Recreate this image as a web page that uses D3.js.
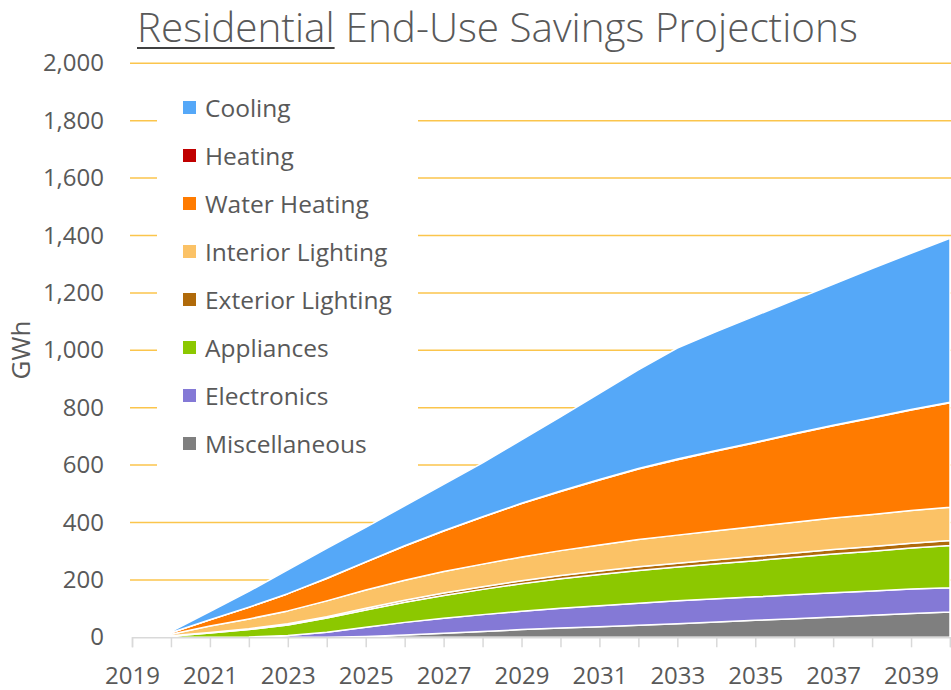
<!DOCTYPE html>
<html>
<head>
<meta charset="utf-8">
<script src="https://cdn.jsdelivr.net/npm/d3@7"></script>
<style>
  html, body { margin: 0; padding: 0; background: #fff; }
  svg { display: block; font-family: "Open Sans", "DejaVu Sans", sans-serif; }
</style>
</head>
<body>
<svg id="chart" width="951" height="690"></svg>
<script>
// ---- data ----
const years = d3.range(2019, 2041);               // category axis 2019..2040
const dataYears = d3.range(2020, 2041);           // series start in 2020
const seriesNames = ["Miscellaneous", "Electronics", "Appliances", "Exterior Lighting",
                     "Interior Lighting", "Water Heating", "Heating", "Cooling"];
const legendOrder = ["Cooling", "Heating", "Water Heating", "Interior Lighting",
                     "Exterior Lighting", "Appliances", "Electronics", "Miscellaneous"];
const misc        = [0, 0, 0, 0, 0, 3, 8, 14, 20, 27, 32, 37, 42, 47, 53, 59, 65, 71, 77, 83, 88];
const electronics = [0, 0, 1, 6, 18, 32, 44, 52, 59, 64, 69, 73, 77, 80, 81, 82, 83, 84, 84, 85, 85];
const appliances  = [4, 15, 26, 37, 49, 60, 70, 80, 88, 96, 103, 109, 114, 118, 122, 126, 131, 135, 139, 143, 147];
const extLighting = [1, 2, 3, 4, 5, 6, 7, 8, 9, 10, 11, 12, 13, 13, 14, 15, 15, 16, 16, 17, 17];
const intLighting = [6, 22, 34, 45, 55, 64, 70, 75, 79, 83, 87, 91, 95, 98, 101, 104, 107, 110, 112, 114, 116];
const waterHeat   = [5, 22, 41, 60, 78, 97, 119, 141, 164, 186, 206, 226, 245, 263, 278, 292, 307, 321, 336, 350, 364];
const heating     = [0, 0, 0, 0, 1, 1, 1, 1, 1, 1, 2, 2, 2, 2, 2, 2, 2, 2, 2, 2, 2];
const cooling     = [4, 29, 55, 83, 104, 120, 139, 162, 188, 221, 258, 300, 344, 387, 414, 440, 465, 491, 519, 544, 571];
const yTicks = [0, 200, 400, 600, 800, 1000, 1200, 1400, 1600, 1800, 2000];
const titleUnderlined = "Residential";
const titleRest = "End-Use Savings Projections";

const seriesValues = {
  "Miscellaneous": misc, "Electronics": electronics, "Appliances": appliances,
  "Exterior Lighting": extLighting, "Interior Lighting": intLighting,
  "Water Heating": waterHeat, "Heating": heating, "Cooling": cooling
};
const colors = {
  "Cooling": "#55a8f8", "Heating": "#c00000", "Water Heating": "#ff7b00",
  "Interior Lighting": "#fbc266", "Exterior Lighting": "#b06a0a",
  "Appliances": "#8cc800", "Electronics": "#8479d6", "Miscellaneous": "#7f7f7f"
};

const rows = dataYears.map((yr, i) => {
  const r = { year: yr };
  seriesNames.forEach(k => r[k] = seriesValues[k][i]);
  return r;
});

// ---- layout ----
const svg = d3.select("#chart");
const x = d3.scalePoint().domain(years).range([132, 950]);
const y = d3.scaleLinear().domain([0, 2000]).range([637.3, 63.3]);
const textColor = "#595959";

// gridlines
svg.append("g").selectAll("line").data(yTicks.filter(d => d > 0)).join("line")
  .attr("x1", 130).attr("x2", 951)
  .attr("y1", d => y(d)).attr("y2", d => y(d))
  .attr("stroke", "#fbc54c").attr("stroke-width", 1.5);

// legend background (hides gridlines)
svg.append("rect").attr("x", 157).attr("y", 84).attr("width", 261).attr("height", 391)
  .attr("fill", "#fff");

// stacked areas
const stack = d3.stack().keys(seriesNames);
const layers = stack(rows);
const area = d3.area()
  .x(d => x(d.data.year))
  .y0(d => y(d[0]))
  .y1(d => y(d[1]));
svg.append("g").selectAll("path").data(layers).join("path")
  .attr("d", area)
  .attr("fill", d => colors[d.key])
  .attr("stroke", "#fff").attr("stroke-width", 1.5).attr("stroke-linejoin", "round");

// x axis
const xAxis = d3.axisBottom(x)
  .tickValues(years)
  .tickSize(10)
  .tickFormat(d => (d % 2 === 1 ? String(d) : ""));
const gx = svg.append("g").attr("transform", "translate(0,637.3)").call(xAxis);
gx.select(".domain").attr("stroke", "#d9d9d9").attr("stroke-width", 1.5);
gx.selectAll(".tick line").attr("stroke", "#d9d9d9").attr("stroke-width", 1.5);
gx.selectAll(".tick text").attr("fill", textColor).attr("font-size", 24)
  .attr("font-family", "'Open Sans', sans-serif").attr("dy", "0.71em").attr("y", 30);

// y axis labels
const yAxis = d3.axisLeft(y).tickValues(yTicks).tickSize(0).tickPadding(0)
  .tickFormat(d3.format(","));
const gy = svg.append("g").attr("transform", "translate(104,0)").call(yAxis);
gy.select(".domain").remove();
gy.selectAll(".tick text").attr("fill", textColor).attr("font-size", 24)
  .attr("font-family", "'Open Sans', sans-serif").attr("x", 0);

// y axis title
svg.append("text")
  .attr("transform", "translate(30,350) rotate(-90)")
  .attr("text-anchor", "middle")
  .attr("fill", textColor).attr("font-size", 26)
  .text("GWh");

// title: fit the two parts into x = 137 .. 858
const tg = svg.append("g");
const t1 = tg.append("text").attr("x", 137).attr("y", 42)
  .attr("fill", textColor).attr("font-size", 40).attr("font-weight", 300)
  .text(titleUnderlined);
const t2 = tg.append("text").attr("y", 42)
  .attr("fill", textColor).attr("font-size", 40).attr("font-weight", 300)
  .text(titleRest);
let w1 = t1.node().getComputedTextLength();
let w2 = t2.node().getComputedTextLength();
const gap0 = 11;
const fs = 40 * (858 - 137 - gap0) / (w1 + w2);
t1.attr("font-size", fs); t2.attr("font-size", fs);
w1 = t1.node().getComputedTextLength();
t2.attr("x", 137 + w1 + gap0);
tg.append("line").attr("x1", 137).attr("x2", 137 + w1).attr("y1", 48).attr("y2", 48)
  .attr("stroke", "#404040").attr("stroke-width", 2);

// legend
const lg = svg.append("g").selectAll("g").data(legendOrder).join("g")
  .attr("transform", (d, i) => `translate(183,${108 + i * 48})`);
lg.append("rect").attr("x", 0).attr("y", -7).attr("width", 13).attr("height", 13)
  .attr("fill", d => colors[d]);
lg.append("text").attr("x", 22).attr("dy", "0.35em")
  .attr("fill", textColor).attr("font-size", 24.5)
  .text(d => d);
</script>
</body>
</html>
